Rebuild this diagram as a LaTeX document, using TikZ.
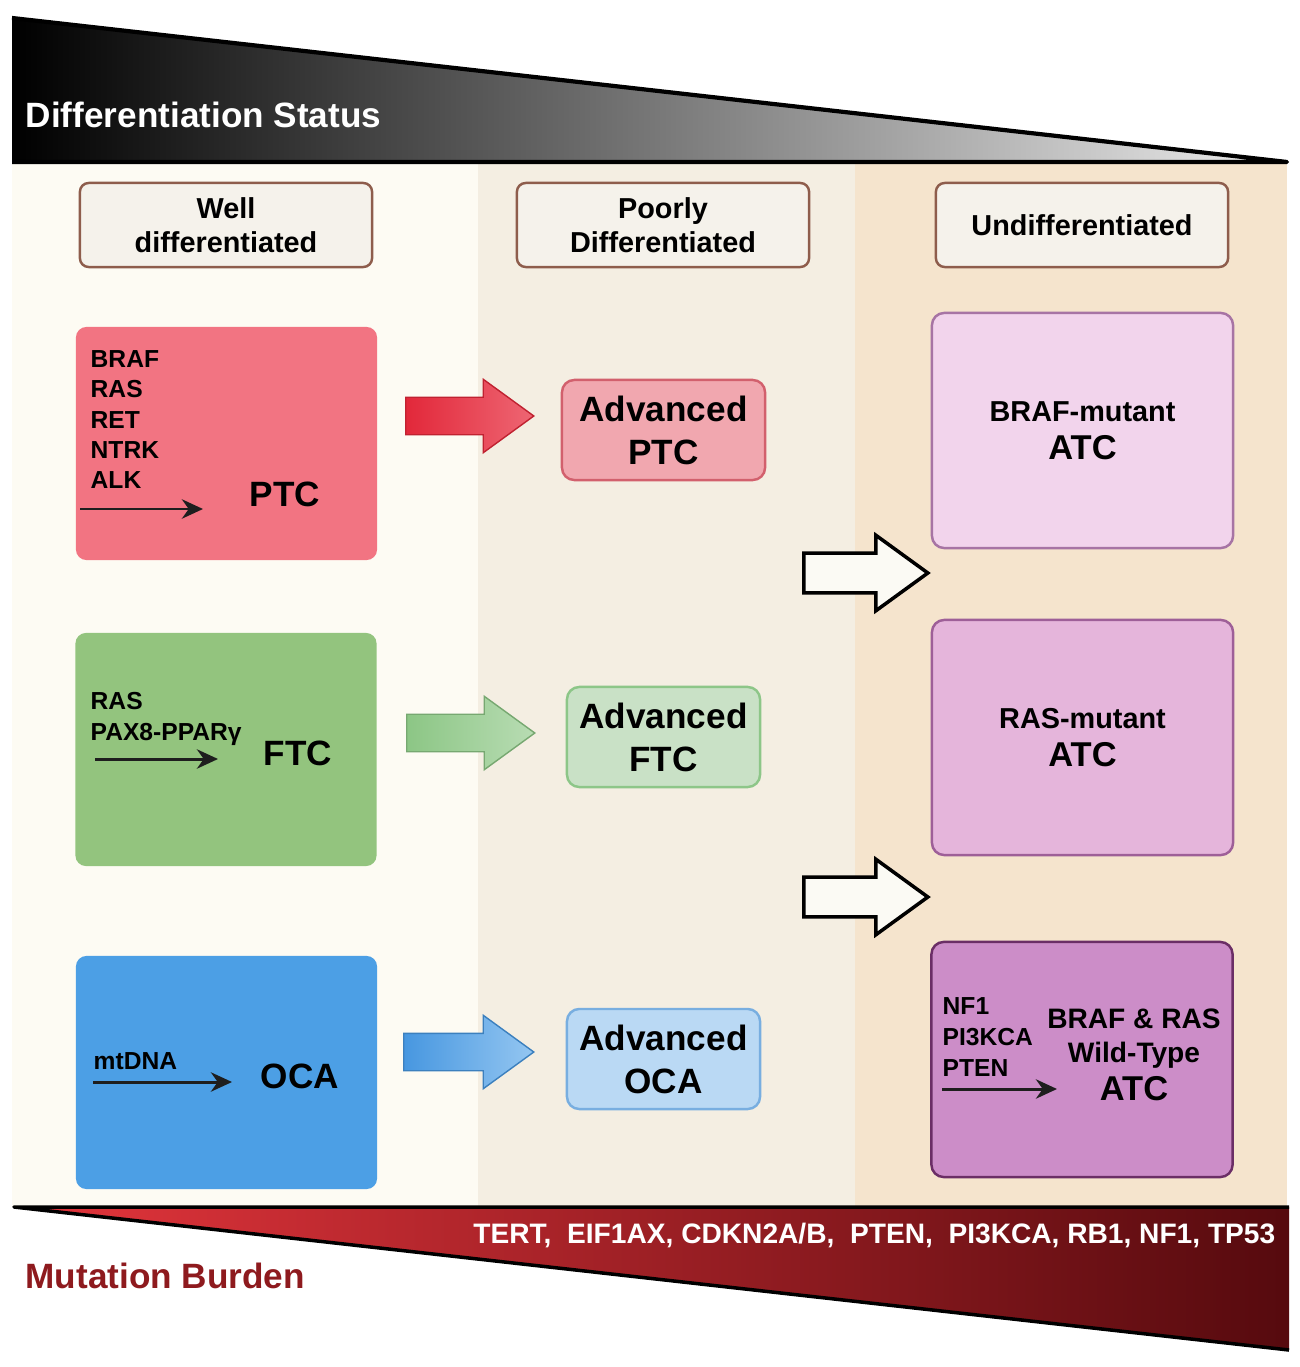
\documentclass[tikz,border=0pt]{standalone}
\usepackage{fontspec}
\setmainfont{Liberation Sans}
\usetikzlibrary{shapes.arrows,arrows.meta}

\definecolor{colA}{HTML}{FDFBF3}
\definecolor{colB}{HTML}{F4EEE2}
\definecolor{colC}{HTML}{F5E4CD}
\definecolor{hdrfill}{HTML}{F5F2EB}
\definecolor{hdrline}{HTML}{8E5D4C}
\definecolor{ptcfill}{HTML}{F27482}
\definecolor{ftcfill}{HTML}{93C47E}
\definecolor{ocafill}{HTML}{4C9FE5}
\definecolor{aptcfill}{HTML}{F1A7AF}
\definecolor{aptcline}{HTML}{D2606D}
\definecolor{aftcfill}{HTML}{C9E1C6}
\definecolor{aftcline}{HTML}{8DC688}
\definecolor{aocafill}{HTML}{BAD9F4}
\definecolor{aocaline}{HTML}{78AEE0}
\definecolor{batcfill}{HTML}{F2D4EC}
\definecolor{batcline}{HTML}{A774A4}
\definecolor{ratcfill}{HTML}{E5B5DB}
\definecolor{ratcline}{HTML}{9E5F98}
\definecolor{watcfill}{HTML}{CC8DC8}
\definecolor{watcline}{HTML}{6B2E66}
\definecolor{redA}{HTML}{E2283A}
\definecolor{redB}{HTML}{EE6673}
\definecolor{greenA}{HTML}{8CC685}
\definecolor{greenB}{HTML}{B8DCB3}
\definecolor{blueA}{HTML}{4797E0}
\definecolor{blueB}{HTML}{94C6F1}
\definecolor{mutred}{HTML}{E4353C}
\definecolor{mutdark}{HTML}{560A0E}
\definecolor{burden}{HTML}{8E1A1E}
\definecolor{openfill}{HTML}{FBFAF4}
\definecolor{inkarrow}{HTML}{1E1E1E}

\tikzset{
  hdrbox/.style={draw=hdrline, fill=hdrfill, line width=0.7pt, rounded corners=2.5pt,
    minimum width=2.92cm, minimum height=0.84cm, align=center,
    font=\bfseries\fontsize{8.2}{9.7}\selectfont},
  tumbox/.style={rounded corners=3pt, minimum width=3.01cm, minimum height=2.33cm},
  advbox/.style={rounded corners=3.5pt, line width=0.7pt, minimum height=1cm, align=center,
    font=\bfseries\fontsize{10}{12.2}\selectfont},
  atcbox/.style={rounded corners=3.5pt, line width=0.7pt, minimum width=3.01cm,
    minimum height=2.35cm, align=center, font=\bfseries\fontsize{8.2}{10.8}\selectfont},
  genes/.style={anchor=north west, inner sep=0pt, align=left,
    font=\bfseries\fontsize{7}{8.6}\selectfont},
  tumlabel/.style={inner sep=0pt, font=\bfseries\fontsize{10}{12}\selectfont},
  mutarrow/.style={-{Stealth[length=6pt,width=5.5pt]}, line width=0.85pt, draw=inkarrow},
  bigarrow/.style={single arrow, single arrow head extend=0.18cm, single arrow tip angle=72,
    inner xsep=0pt, inner ysep=0.18cm, minimum height=1.28cm, anchor=tail, line width=0.4pt},
  openarrow/.style={bigarrow, draw=black, fill=openfill, line width=1pt, minimum height=1.24cm}
}

\begin{document}
\begin{tikzpicture}[x=0.01cm, y=-0.01cm]
    \useasboundingbox (0,0) rectangle (1299,1367);
    \fill[white] (0,0) rectangle (1299,1367);
    % columns
    \fill[colA] (12,162) rectangle (478,1207);
    \fill[colB] (478,162) rectangle (855,1207);
    \fill[colC] (855,162) rectangle (1287,1207);

    % differentiation wedge
    \shade[left color=black, right color=white!93!black] (12,18) -- (1287,162) -- (12,162) -- cycle;
    \draw[line width=1.2pt, line join=round] (12,18) -- (1287,162) -- (12,162);
    \node[anchor=base west, inner sep=0pt, text=white, font=\bfseries\fontsize{10}{12}\selectfont]
        (diffstatus) at (25,128) {Differentiation Status};

    % headers
    \node[hdrbox] (well) at (226,225) {Well\\differentiated};
    \node[hdrbox] (poor) at (663,225) {Poorly\\Differentiated};
    \node[hdrbox] (undiff) at (1082,225) {Undifferentiated};

    % well differentiated
    \node[tumbox, fill=ptcfill] (ptc) at (226.5,443.5) {};
    \node[genes] (ptcgenes) at (90,350) {BRAF\\RAS\\RET\\NTRK\\ALK};
    \node[tumlabel] (ptclabel) at (285,494) {PTC};
    \coordinate (ptctail) at (80,509);
    \coordinate (ptchead) at (203,509);
    \draw[mutarrow] (ptctail) -- (ptchead);

    \node[tumbox, fill=ftcfill] (ftc) at (226,749.5) {};
    \node[genes] (ftcgenes) at (90,692) {RAS\\PAX8-PPARγ};
    \node[tumlabel] (ftclabel) at (298,753) {FTC};
    \coordinate (ftctail) at (95,759);
    \coordinate (ftchead) at (218,759);
    \draw[mutarrow] (ftctail) -- (ftchead);

    \node[tumbox, fill=ocafill] (oca) at (226.5,1072.5) {};
    \node[genes] (ocagenes) at (93,1052) {mtDNA};
    \node[tumlabel] (ocalabel) at (300,1076) {OCA};
    \coordinate (ocatail) at (93,1082);
    \coordinate (ocahead) at (232,1082);
    \draw[mutarrow] (ocatail) -- (ocahead);

    % progression arrows
    \node[bigarrow, left color=redA, right color=redB, draw=redA!85!black] (redarrow) at (405,416) {};
    \node[bigarrow, left color=greenA, right color=greenB, draw=greenA!85!black] (greenarrow) at (406,733) {};
    \node[bigarrow, left color=blueA, right color=blueB, draw=blueA!85!black, minimum height=1.3cm] (bluearrow) at (403,1052) {};

    % poorly differentiated
    \node[advbox, draw=aptcline, fill=aptcfill, minimum width=2.03cm] (aptc) at (663.5,430) {Advanced\\PTC};
    \node[advbox, draw=aftcline, fill=aftcfill, minimum width=1.93cm] (aftc) at (663.5,737) {Advanced\\FTC};
    \node[advbox, draw=aocaline, fill=aocafill, minimum width=1.93cm] (aoca) at (663.5,1059) {Advanced\\OCA};

    \node[openarrow] (openA) at (802,573) {};
    \node[openarrow] (openB) at (802,897) {};

    % undifferentiated
    \node[atcbox, draw=batcline, fill=batcfill] (batc) at (1082.5,430.5)
        {BRAF-mutant\\{\fontsize{9.8}{11}\selectfont ATC}};
    \node[atcbox, draw=ratcline, fill=ratcfill] (ratc) at (1082.5,737.5)
        {RAS-mutant\\{\fontsize{9.8}{11}\selectfont ATC}};
    \node[atcbox, draw=watcline, fill=watcfill] (watc) at (1082,1059.5) {};
    \node[genes, font=\bfseries\fontsize{7}{8.8}\selectfont] (watcgenes) at (942,997) {NF1\\PI3KCA\\PTEN};
    \node[align=center, inner sep=0pt, font=\bfseries\fontsize{8}{9.7}\selectfont] (watclabel) at (1134,1055)
        {BRAF \& RAS\\Wild-Type\\[1pt]{\fontsize{9.8}{11}\selectfont ATC}};
    \coordinate (watctail) at (942,1089);
    \coordinate (watchead) at (1057,1089);
    \draw[mutarrow] (watctail) -- (watchead);

    % mutation wedge
    \shade[left color=mutred, right color=mutdark] (14,1207) -- (1289,1207) -- (1289,1350) -- cycle;
    \draw[line width=1pt, line join=round] (1289,1350) -- (14,1207) -- (1289,1207);
    \node[anchor=base east, inner sep=0pt, text=white, font=\bfseries\fontsize{8}{10}\selectfont]
        (mutgenes) at (1276,1243) {TERT,\ \ EIF1AX, CDKN2A/B,\ \ PTEN,\ \ PI3KCA, RB1, NF1, TP53};
    \node[anchor=base west, inner sep=0pt, text=burden, font=\bfseries\fontsize{10}{12}\selectfont]
        (burdenlabel) at (25,1288) {Mutation Burden};
\end{tikzpicture}
\end{document}
